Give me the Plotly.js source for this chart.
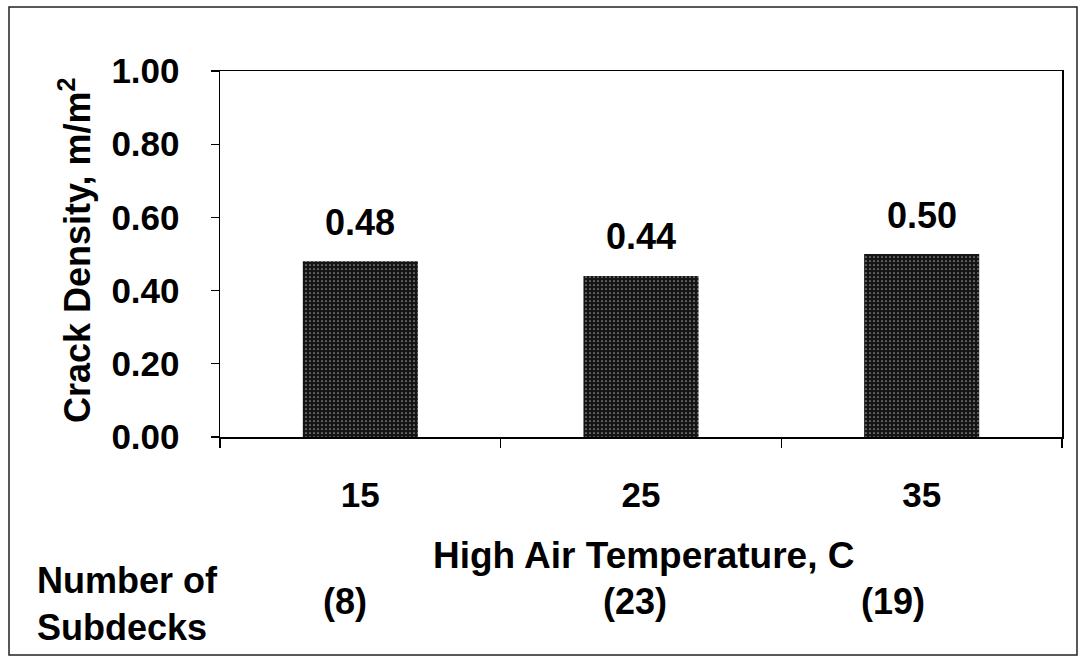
<!DOCTYPE html>
<html>
<head>
<meta charset="utf-8">
<script src="https://cdn.plot.ly/plotly-3.0.1.min.js"></script>
<style>
html,body{margin:0;padding:0;background:#fff;}
#chart{width:1084px;height:659px;}
</style>
</head>
<body>
<div id="chart"></div>
<script>
// ---- data ----
const temperatures = ["15", "25", "35"];
const crackDensity = [0.48, 0.44, 0.50];
const subdeckCounts = ["(8)", "(23)", "(19)"];
const yTitle = "Crack Density, m/m<sup>2</sup>";
const xTitle = "High Air Temperature, C";
const countLabel = "Number of<br>Subdecks";

// ---- layout geometry (pixels) ----
const W = 1084, H = 659;
const L = 220, R = 1062, T = 71, B = 437;
const px = x => (x - L) / (R - L);
const py = y => (B - y) / (B - T);
const FONT = "Liberation Sans, Arial, sans-serif";
const fnt = (s) => ({family: FONT, size: s, color: "#000", weight: "bold"});

const trace = {
  type: "bar",
  x: temperatures,
  y: crackDensity,
  marker: {
    color: "#151515",
    line: {width: 0},
    pattern: {shape: ".", fgcolor: "#a0a0a0", bgcolor: "#151515", size: 4, solidity: 0.14, fillmode: "replace"}
  },
  hoverinfo: "skip"
};

const annotations = [];
// value labels (category index positions)
temperatures.forEach((t, i) => {
  annotations.push({
    x: i, y: crackDensity[i], xref: "x", yref: "y",
    text: crackDensity[i].toFixed(2), showarrow: false,
    xanchor: "center", yanchor: "middle", yshift: 39,
    font: fnt(36)
  });
});
// subdeck counts
const countX = [345, 635, 893];
subdeckCounts.forEach((c, i) => {
  annotations.push({
    x: px(countX[i]), y: py(601), xref: "paper", yref: "paper",
    text: c, showarrow: false, xanchor: "center", yanchor: "middle",
    font: fnt(36)
  });
});
annotations.push({
  x: px(35), y: py(604), xref: "paper", yref: "paper",
  text: countLabel, showarrow: false, xanchor: "left", yanchor: "middle", align: "left",
  font: fnt(36)
});
annotations.push({
  x: px(643), y: py(555), xref: "paper", yref: "paper",
  text: xTitle, showarrow: false, xanchor: "center", yanchor: "middle",
  font: fnt(37)
});
annotations.push({
  x: px(75), y: py(250), xref: "paper", yref: "paper",
  text: yTitle, showarrow: false, xanchor: "center", yanchor: "middle",
  textangle: -90, font: fnt(36)
});

const layout = {
  width: W, height: H,
  margin: {l: L, r: W - R, t: T, b: H - B, pad: 0},
  paper_bgcolor: "#fff", plot_bgcolor: "#fff",
  showlegend: false,
  bargap: 0.59,
  xaxis: {
    type: "category", range: [-0.5, 2.5], autorange: false,
    showline: true, mirror: true, linecolor: "#000", linewidth: 1.5,
    ticks: "outside", tickson: "boundaries", ticklen: 9, tickwidth: 1.2, tickcolor: "#000",
    showgrid: false, zeroline: false, tickangle: 0,
    tickfont: fnt(35), ticklabelstandoff: 26
  },
  yaxis: {
    range: [0, 1], autorange: false, dtick: 0.2, tick0: 0, tickformat: ".2f",
    showline: true, mirror: true, linecolor: "#000", linewidth: 1.5,
    ticks: "outside", ticklen: 8, tickwidth: 1.2, tickcolor: "#000",
    showgrid: false, zeroline: false,
    tickfont: fnt(35), ticklabelstandoff: 24
  },
  annotations: annotations,
  shapes: [{
    type: "rect", xref: "paper", yref: "paper",
    x0: px(9), x1: px(1077), y0: py(655), y1: py(7),
    line: {color: "#222", width: 1.5}, fillcolor: "rgba(0,0,0,0)", layer: "below"
  }]
};

Plotly.newPlot("chart", [trace], layout, {staticPlot: true, displayModeBar: false});
</script>
</body>
</html>
